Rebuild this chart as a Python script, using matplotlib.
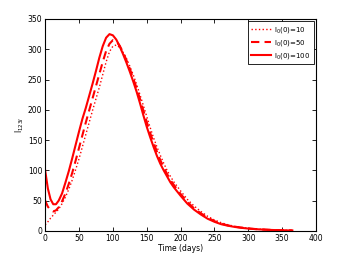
import matplotlib
matplotlib.use("Agg")
import matplotlib.pyplot as plt

t = [0, 4, 8, 12, 16] + list(range(20, 195, 5)) + list(range(200, 360, 10)) + [365]

i100 = [100, 70, 52, 44, 44,
        50, 62, 80, 99, 120, 142, 164, 185, 203, 223, 243, 264, 286, 305, 319, 325,
        323, 316, 305, 292, 278, 263, 247, 230, 211, 191, 172, 155, 139, 124, 111, 100, 90, 80, 72,
        58, 45, 35, 27, 20, 15, 11, 8.5, 6.5, 5, 3.8, 2.9, 2.2, 1.7, 1.3, 1.0,
        0.7]
i50 = [50, 40, 34, 32, 34,
       39, 49, 62, 78, 96, 116, 137, 158, 179, 199, 219, 239, 259, 279, 297, 309,
       315, 313, 306, 295, 282, 268, 252, 236, 218, 199, 180, 162, 146, 131, 117, 105, 94, 84, 76,
       61, 48, 37, 29, 22, 16, 12, 9, 7, 5.3, 4.0, 3.1, 2.4, 1.8, 1.4, 1.1,
       0.8]
i10 = [10, 15, 21, 26, 31,
       36, 45, 56, 69, 84, 101, 119, 139, 159, 179, 199, 218, 237, 258, 279, 296,
       305, 307, 303, 295, 285, 272, 258, 242, 225, 207, 189, 171, 154, 139, 125, 112, 100, 90, 81,
       66, 52, 41, 32, 24, 18, 13.5, 10, 7.5, 5.7, 4.3, 3.3, 2.5, 1.9, 1.5, 1.1,
       0.8]

labels = [r'I$_0$(0)=10', r'I$_0$(0)=50', r'I$_0$(0)=100']

fig = plt.figure(figsize=(3.5, 2.6), dpi=100)
ax = fig.add_axes([0.129, 0.112, 0.774, 0.815])

ax.plot(t, i10, color='red', linestyle=':', lw=1.0, label=labels[0])
ax.plot(t, i50, color='red', linestyle=(0, (4, 2.5)), lw=1.5, label=labels[1])
ax.plot(t, i100, color='red', linestyle='-', lw=1.5, label=labels[2])

ax.set_xlim(0, 400)
ax.set_ylim(0, 350)
ax.set_xticks(range(0, 401, 50))
ax.set_yticks(range(0, 351, 50))
ax.tick_params(direction='in', top=True, right=True, labelsize=5.5, length=3, width=0.6, pad=2)
for s in ax.spines.values():
    s.set_linewidth(0.8)
    s.set_color('black')
ax.set_xlabel('Time (days)', fontsize=5.5, labelpad=1)
ax.set_ylabel(r'I$_{123I}$', fontsize=5.5, labelpad=1)

leg = ax.legend(loc='upper right', fontsize=5, frameon=True, fancybox=False,
                edgecolor='black', framealpha=1, handlelength=2.8, borderpad=0.45,
                labelspacing=0.45, handletextpad=0.5, borderaxespad=0.35)
leg.get_frame().set_linewidth(0.6)

fig.savefig('out.png', dpi=100)
